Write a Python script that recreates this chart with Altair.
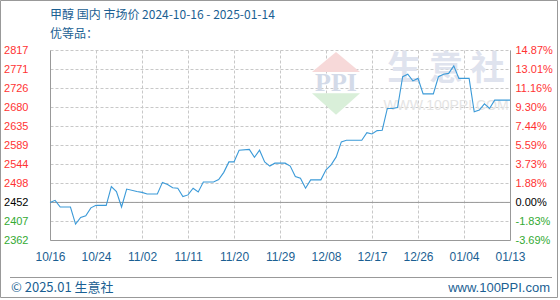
import json
import altair as alt
import pandas as pd

# ---- data ----
dates = [
    "2024-10-16", "2024-10-17", "2024-10-18", "2024-10-20", "2024-10-21", "2024-10-22",
    "2024-10-23", "2024-10-24", "2024-10-25", "2024-10-27", "2024-10-28", "2024-10-29",
    "2024-10-30", "2024-10-31", "2024-11-02", "2024-11-03", "2024-11-04", "2024-11-06",
    "2024-11-07", "2024-11-08", "2024-11-09", "2024-11-10", "2024-11-11", "2024-11-12",
    "2024-11-13", "2024-11-14", "2024-11-15", "2024-11-17", "2024-11-18", "2024-11-19",
    "2024-11-20", "2024-11-21", "2024-11-22", "2024-11-24", "2024-11-25", "2024-11-26",
    "2024-11-27", "2024-11-28", "2024-11-29", "2024-12-01", "2024-12-02", "2024-12-03",
    "2024-12-04", "2024-12-05", "2024-12-06", "2024-12-08", "2024-12-09", "2024-12-10",
    "2024-12-11", "2024-12-12", "2024-12-13", "2024-12-16", "2024-12-17", "2024-12-18",
    "2024-12-19", "2024-12-20", "2024-12-21", "2024-12-22", "2024-12-23", "2024-12-24",
    "2024-12-25", "2024-12-26", "2024-12-27", "2024-12-28", "2024-12-30", "2024-12-31",
    "2025-01-01", "2025-01-02", "2025-01-03", "2025-01-04", "2025-01-06", "2025-01-07",
    "2025-01-08", "2025-01-09", "2025-01-10", "2025-01-11", "2025-01-14",
]
prices = [
    2452, 2457, 2441, 2441, 2400, 2416,
    2420, 2439, 2445, 2445, 2490, 2478,
    2441, 2484, 2478, 2476, 2472, 2472,
    2500, 2495, 2487, 2486, 2466, 2470,
    2486, 2477, 2501, 2501, 2507, 2524,
    2549, 2549, 2577, 2579, 2560, 2577,
    2549, 2539, 2546, 2546, 2539, 2514,
    2510, 2486, 2506, 2506, 2530, 2542,
    2561, 2597, 2601, 2601, 2619, 2616,
    2624, 2625, 2677, 2677, 2679, 2753,
    2759, 2743, 2749, 2712, 2712, 2753,
    2759, 2761, 2779, 2749, 2749, 2669,
    2673, 2688, 2677, 2697, 2697,
]
x_labels = ["10/16", "10/24", "11/02", "11/11", "11/20", "11/29",
            "12/08", "12/17", "12/26", "01/04", "01/13"]
y_ticks = [2362, 2407, 2452, 2498, 2544, 2589, 2635, 2680, 2726, 2771, 2817]
pct_labels = ["-3.69%", "-1.83%", "0.00%", "1.88%", "3.73%", "5.59%",
              "7.44%", "9.30%", "11.16%", "13.01%", "14.87%"]
BASE = 2452
START = "2024-10-16"
END = "2025-01-14"

title_text = "甲醇 国内 市场价 2024-10-16 - 2025-01-14"
subtitle_text = "优等品："
footer_left = "© 2025.01 生意社"
footer_right = "www.100PPI.com"

# ---- build ----
df = pd.DataFrame({"date": pd.to_datetime(dates), "price": prices})
df["day"] = (df["date"] - pd.Timestamp(START)).dt.days
total_days = (pd.Timestamp(END) - pd.Timestamp(START)).days
step = total_days // (len(x_labels) - 1)
x_tick_vals = [i * step for i in range(len(x_labels))]

x_label_expr = f"{json.dumps(x_labels)}[round(datum.value / {step})]"
pct_expr = f"{json.dumps(pct_labels)}[indexof({json.dumps(y_ticks)}, datum.value)]"
color_expr = (f"datum.value > {BASE} ? '#ff3333' : "
              f"(datum.value < {BASE} ? '#33aa33' : '#000000')")

BLUE = "#1b5f93"
GRID = "#c8c8c8"
FRAME = "#999999"

x_scale = alt.Scale(domain=[0, total_days], nice=False, zero=False)
y_scale = alt.Scale(domain=[y_ticks[0], y_ticks[-1]], nice=False, zero=False)

x_axis = alt.Axis(values=x_tick_vals, labelExpr=x_label_expr, grid=True,
                  gridDash=[3, 2], gridColor=GRID, domainColor=FRAME, ticks=False,
                  labelPadding=11, labelColor=BLUE, labelFont="Liberation Sans",
                  labelFontSize=12, labelFlush=False, labelOverlap=False,
                  labelBound=False, title=None)

left_axis = alt.Axis(values=y_ticks, orient="left", grid=True, gridDash=[3, 2],
                     gridColor=GRID, domainColor=FRAME, ticks=False, labelPadding=22,
                     format="d",
                     labelColor={"expr": color_expr}, labelFont="Liberation Sans",
                     labelFontSize=11, labelOverlap=False, labelBound=False,
                     labelFlush=False, title=None)

right_axis = alt.Axis(values=y_ticks, orient="right", grid=False, domainColor=FRAME,
                      ticks=False, labelPadding=5, labelExpr=pct_expr,
                      labelColor={"expr": color_expr}, labelFont="Liberation Sans",
                      labelFontSize=11, labelOverlap=False, labelBound=False,
                      labelFlush=False, title=None)

one = pd.DataFrame({"k": [0]})

def txt(text, **kw):
    d = pd.DataFrame({"t": [text]})
    x = kw.pop("x")
    y = kw.pop("y")
    return alt.Chart(d).mark_text(**kw).encode(text="t:N", x=alt.value(x), y=alt.value(y))

# watermark
wm_tri_up = alt.Chart(one).mark_point(
    shape="M-1,0.42L1,0.42L0,-0.42Z", filled=True, color="#f7d9d9", opacity=1,
    size=2304).encode(x=alt.value(286), y=alt.value(12))
wm_tri_dn = alt.Chart(one).mark_point(
    shape="M-1,-0.45L1,-0.45L0,0.45Z", filled=True, color="#d9efd9", opacity=1,
    size=2304).encode(x=alt.value(286), y=alt.value(54))
wm_ppi = txt("PPI", x=286, y=33, font="Liberation Serif", fontSize=26,
             fontWeight="bold", color="#d3dae8", align="center", baseline="middle")
wm_name = txt("生 意 社", x=396, y=20, font="Noto Sans CJK SC", fontSize=34,
              fontWeight="bold", color="#dfe3ee", align="center", baseline="middle")
wm_url = txt("WWW.100PPI.COM", x=396, y=56, font="Liberation Sans", fontSize=14,
             color="#e4e4e4", align="center", baseline="middle")

zero = alt.Chart(one).mark_rule(color=FRAME, strokeWidth=1).encode(
    y=alt.YDatum(BASE, scale=y_scale, axis=None))

line = alt.Chart(df).mark_line(color="#3b9ad8", strokeWidth=1.1).encode(
    x=alt.X("day:Q", scale=x_scale, axis=x_axis),
    y=alt.Y("price:Q", scale=y_scale, axis=left_axis),
)

right = alt.Chart(df).mark_line(strokeOpacity=0).encode(
    x=alt.X("day:Q", scale=x_scale, axis=x_axis),
    y=alt.Y("price:Q", scale=y_scale, axis=right_axis),
)

title = txt(title_text, x=0, y=-35, font="Noto Sans CJK SC", fontSize=12,
            color=BLUE, align="left", baseline="middle")
subtitle = txt(subtitle_text, x=0, y=-16, font="Noto Sans CJK SC", fontSize=12,
               color=BLUE, align="left", baseline="middle")
f_left = txt(footer_left, x=-39, y=238, font="Noto Sans CJK SC", fontSize=13,
             color=BLUE, align="left", baseline="middle")
f_right = txt(footer_right, x=500, y=238, font="Liberation Sans", fontSize=13,
              color=BLUE, align="right", baseline="middle")
f_rule = alt.Chart(one).mark_rule(color=FRAME, strokeWidth=1).encode(
    x=alt.value(-40), x2=alt.value(502), y=alt.value(227.5))
frame = alt.Chart(one).mark_rect(filled=False, stroke=FRAME, strokeWidth=1).encode(
    x=alt.value(-49.5), x2=alt.value(507.5), y=alt.value(-49.5), y2=alt.value(247.5))

chart = alt.layer(
    wm_tri_up, wm_tri_dn, wm_ppi, wm_name, wm_url,
    zero, line, right,
    title, subtitle, f_left, f_right, f_rule, frame,
).resolve_scale(y="independent").properties(
    width=460, height=190, autosize="none",
    padding={"left": 50, "top": 50, "right": 50, "bottom": 60},
    background="white",
).configure_view(stroke=None)

chart.save("out.html", embed_options={"renderer": "svg", "actions": False})
